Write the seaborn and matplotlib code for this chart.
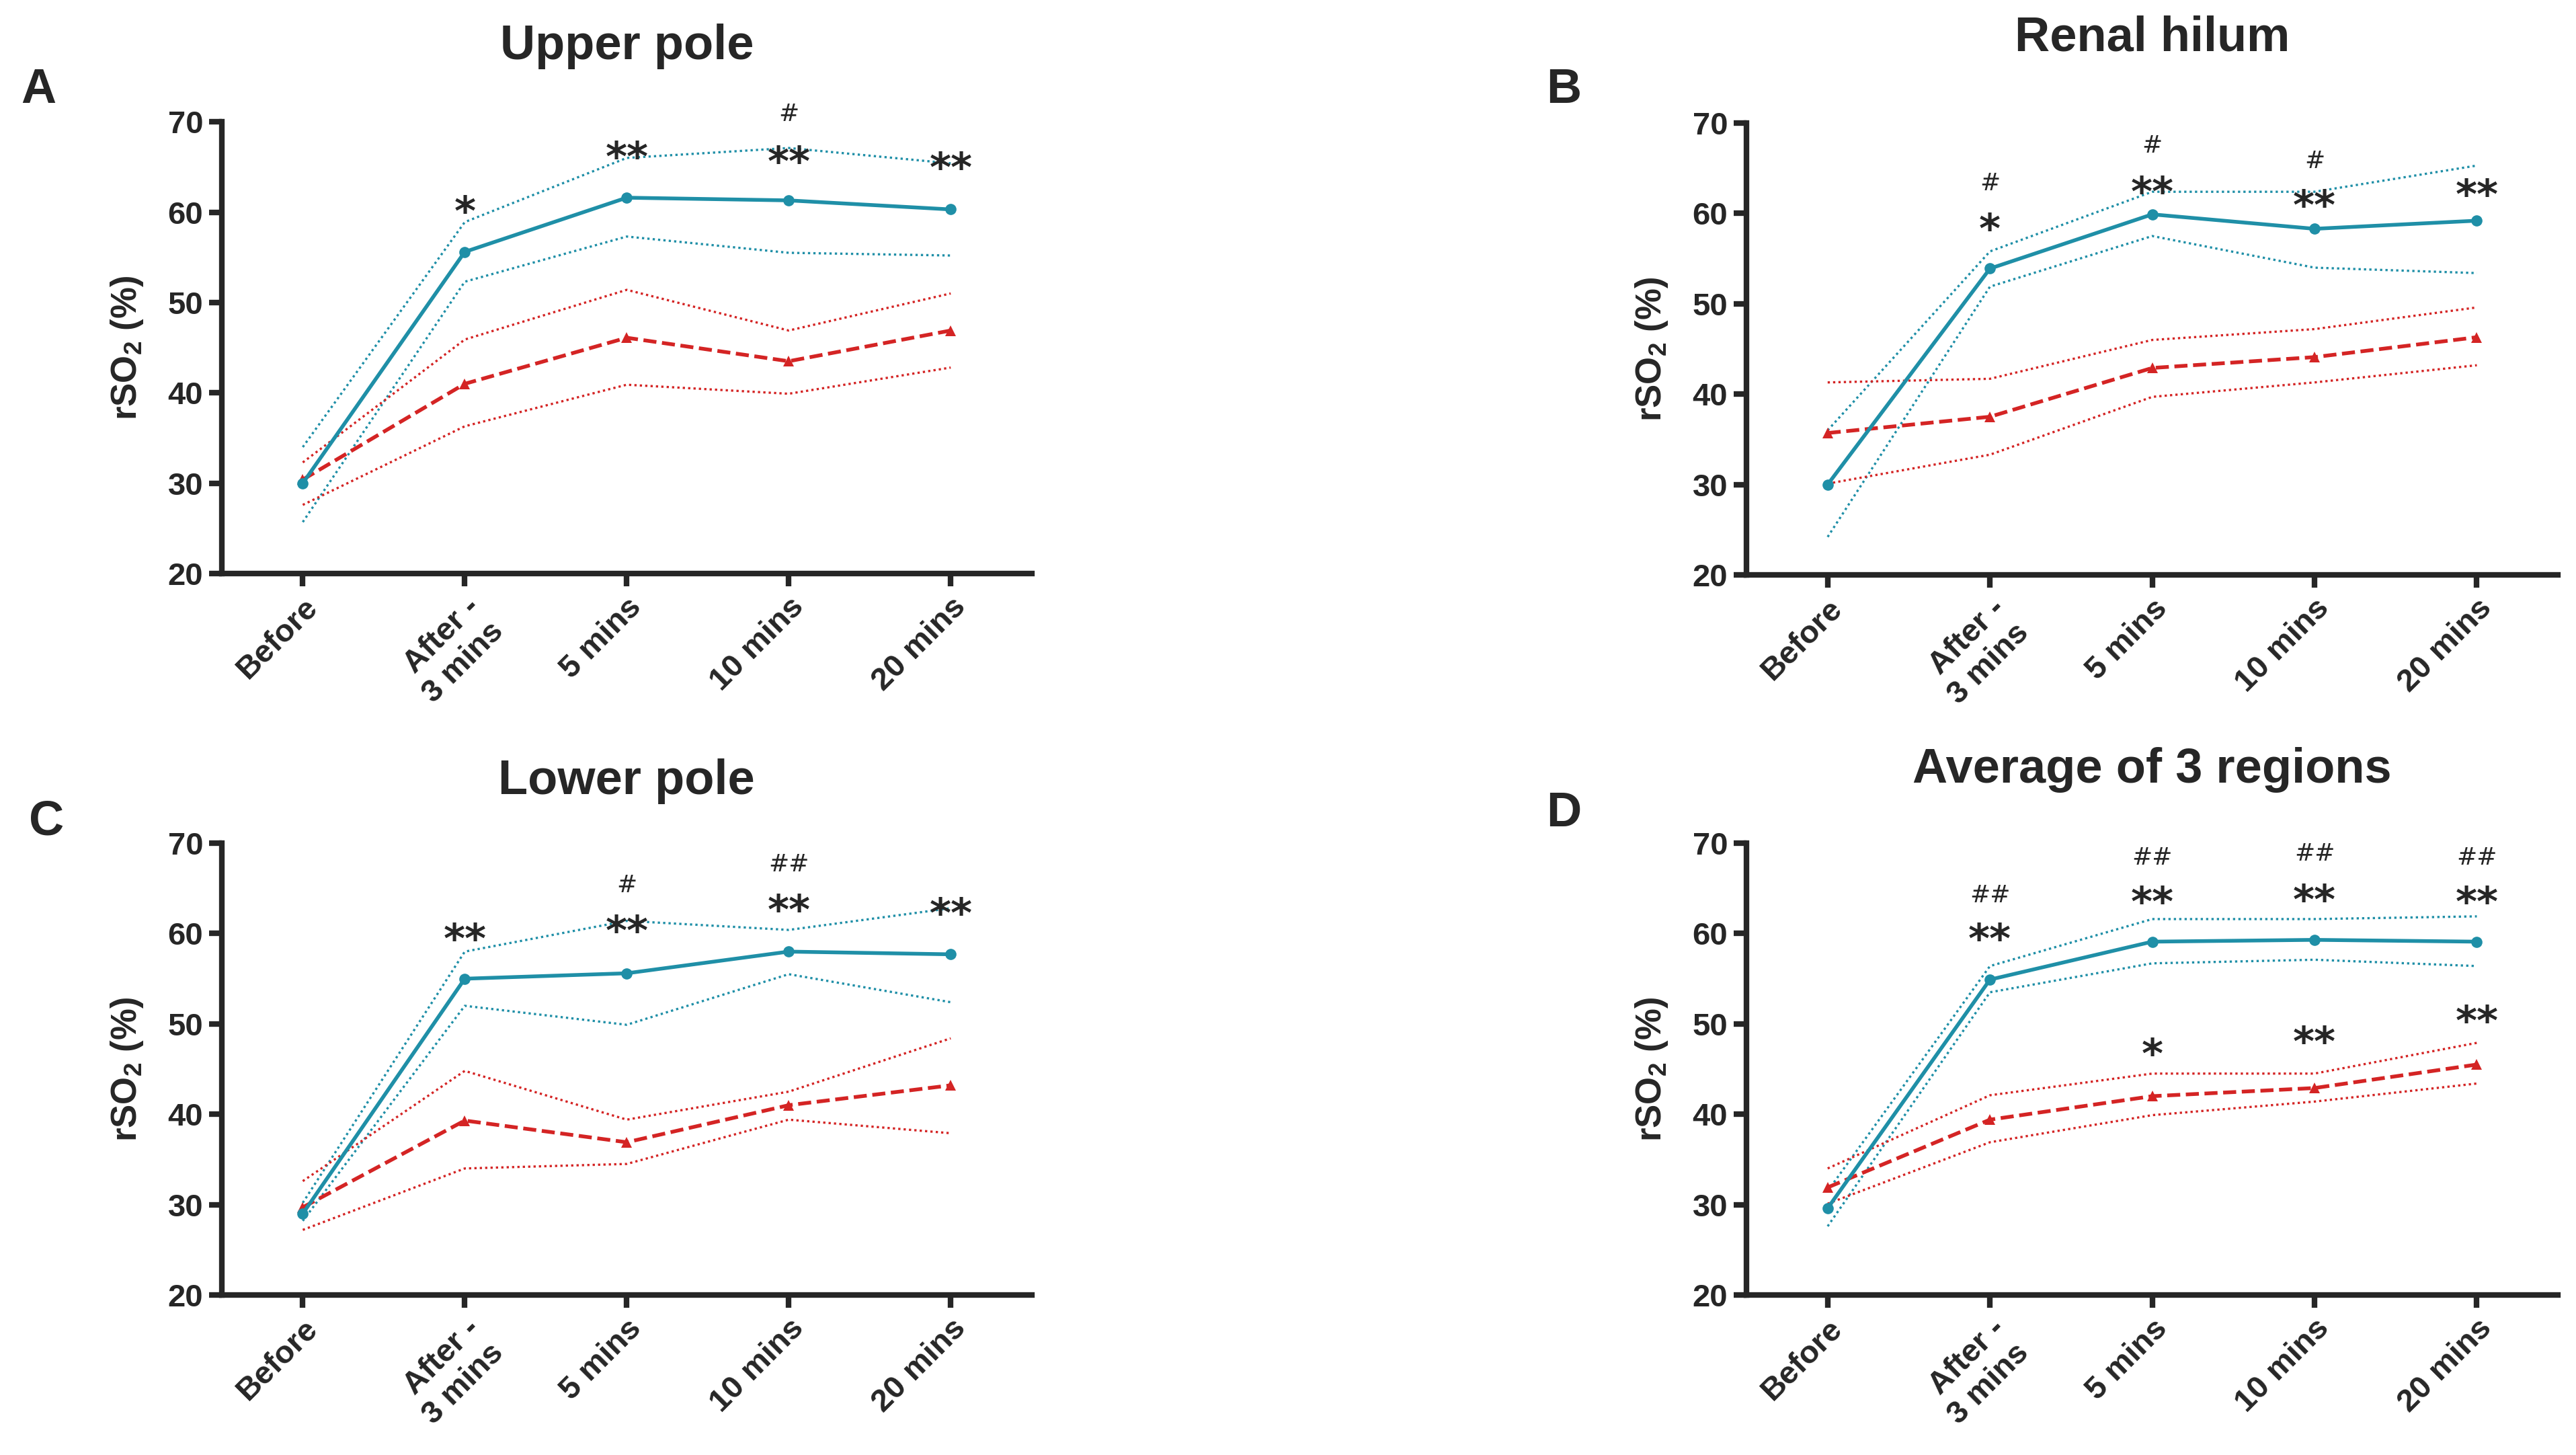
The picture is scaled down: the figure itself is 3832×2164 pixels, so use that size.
import numpy as np
import pandas as pd
import seaborn as sns
import matplotlib
matplotlib.use("Agg")
import matplotlib.pyplot as plt

sns.set_theme(style="ticks")
plt.rcParams['font.family'] = ['Liberation Sans', 'DejaVu Sans']
plt.rcParams['font.weight'] = 'bold'
plt.rcParams['mathtext.fontset'] = 'custom'
plt.rcParams['mathtext.rm'] = 'Liberation Sans'
plt.rcParams['mathtext.bf'] = 'Liberation Sans:bold'

TEAL = "#1f8fa7"
RED = "#d42424"

time_labels = ["Before", "After -\n3 mins", "5 mins", "10 mins", "20 mins"]

# A - upper pole
upper_teal = [30.0, 55.6, 61.6, 61.3, 60.3]
upper_teal_hi = [34.0, 58.9, 66.0, 67.1, 65.4]
upper_teal_lo = [25.7, 52.3, 57.3, 55.5, 55.2]
upper_red = [30.4, 41.0, 46.1, 43.5, 46.9]
upper_red_hi = [32.3, 45.9, 51.4, 46.9, 51.0]
upper_red_lo = [27.6, 36.3, 40.9, 39.9, 42.8]
upper_marks = [(1, 59.8, "*"), (2, 65.8, "**"), (3, 65.3, "**"), (3, 70.8, "#"), (4, 64.6, "**")]

# B - renal hilum
hilum_teal = [30.0, 53.9, 59.9, 58.3, 59.2]
hilum_teal_hi = [36.0, 55.8, 62.4, 62.4, 65.3]
hilum_teal_lo = [24.2, 51.9, 57.5, 54.0, 53.4]
hilum_red = [35.7, 37.5, 42.9, 44.1, 46.3]
hilum_red_hi = [41.3, 41.7, 46.0, 47.2, 49.6]
hilum_red_lo = [30.1, 33.3, 39.7, 41.3, 43.2]
hilum_marks = [(1, 58.0, "*"), (1, 63.3, "#"), (2, 62.1, "**"), (2, 67.5, "#"),
               (3, 60.6, "**"), (3, 65.8, "#"), (4, 61.8, "**")]

# C - lower pole
lower_teal = [29.0, 55.0, 55.6, 58.0, 57.7]
lower_teal_hi = [30.2, 58.0, 61.4, 60.4, 62.8]
lower_teal_lo = [28.2, 52.0, 49.9, 55.5, 52.4]
lower_red = [29.7, 39.3, 36.9, 41.0, 43.2]
lower_red_hi = [32.6, 44.8, 39.4, 42.5, 48.4]
lower_red_lo = [27.2, 34.0, 34.5, 39.4, 37.9]
lower_marks = [(1, 59.1, "**"), (2, 60.0, "**"), (2, 65.3, "#"), (3, 62.3, "**"),
               (3, 67.6, "##"), (4, 61.9, "**")]

# D - average of 3 regions
avg_teal = [29.6, 54.9, 59.1, 59.3, 59.1]
avg_teal_hi = [31.5, 56.4, 61.6, 61.6, 61.9]
avg_teal_lo = [27.6, 53.5, 56.7, 57.1, 56.4]
avg_red = [31.9, 39.4, 42.0, 42.9, 45.5]
avg_red_hi = [34.0, 42.1, 44.5, 44.5, 47.9]
avg_red_lo = [30.1, 36.9, 39.9, 41.4, 43.4]
avg_marks = [(1, 59.1, "**"), (1, 64.2, "##"), (2, 63.2, "**"), (2, 68.4, "##"),
             (3, 63.4, "**"), (3, 68.8, "##"), (4, 63.2, "**"), (4, 68.4, "##"),
             (2, 46.4, "*"), (3, 47.7, "**"), (4, 50.0, "**")]


def draw_panel(ax, teal, teal_hi, teal_lo, red, red_hi, red_lo, marks):
    x = np.arange(len(time_labels))
    dot = (0, (1, 1.4))
    for band in (teal_hi, teal_lo):
        sns.lineplot(x=x, y=band, color=TEAL, lw=1.2, linestyle=dot, ax=ax)
    for band in (red_hi, red_lo):
        sns.lineplot(x=x, y=band, color=RED, lw=1.2, linestyle=dot, ax=ax)
    sns.lineplot(x=x, y=red, color=RED, lw=2.0, linestyle=(0, (3.5, 1.5)),
                 marker="^", markersize=6, markeredgewidth=0, ax=ax)
    sns.lineplot(x=x, y=teal, color=TEAL, lw=2.0, marker="o",
                 markersize=6, markeredgewidth=0, ax=ax)

    for xi, yi, txt in marks:
        if "*" in txt:
            ax.text(xi, yi, txt, ha="center", va="center",
                    fontsize=22, fontweight="bold", family="DejaVu Sans")
        else:
            ax.text(xi, yi, txt, ha="center", va="center", fontsize=13,
                    fontweight="normal", family="DejaVu Sans")

    ax.set_xlim(-0.5, 4.5)
    ax.set_ylim(20, 70)
    ax.set_yticks([20, 30, 40, 50, 60, 70])
    ax.set_xticks(x)
    ax.set_xticklabels(time_labels, rotation=45, ha="right",
                       rotation_mode="anchor", fontsize=17, fontweight="bold")
    for lab in ax.get_yticklabels():
        lab.set_fontsize(17)
        lab.set_fontweight("bold")
    ax.set_ylabel(r"rSO$_{\mathregular{2}}$ (%)", fontsize=19,
                  fontweight="bold", labelpad=12)
    ax.set_xlabel("")
    sns.despine(ax=ax)
    for side in ("left", "bottom"):
        ax.spines[side].set_linewidth(3)
    ax.tick_params(width=3, length=7, direction="out", pad=3)
    ax.set_facecolor("white")


fig = plt.figure(figsize=(19.16, 10.82), dpi=200)
fig.patch.set_facecolor("white")

panels = [
    ([0.0861, 0.6058, 0.3144, 0.3105], "Upper pole", "A", 0.968, (0.015, 0.938),
     (upper_teal, upper_teal_hi, upper_teal_lo, upper_red, upper_red_hi, upper_red_lo, upper_marks)),
    ([0.678, 0.6049, 0.315, 0.3105], "Renal hilum", "B", 0.974, (0.607, 0.938),
     (hilum_teal, hilum_teal_hi, hilum_teal_lo, hilum_red, hilum_red_hi, hilum_red_lo, hilum_marks)),
    ([0.0861, 0.110, 0.3144, 0.3105], "Lower pole", "C", 0.463, (0.018, 0.435),
     (lower_teal, lower_teal_hi, lower_teal_lo, lower_red, lower_red_hi, lower_red_lo, lower_marks)),
    ([0.678, 0.110, 0.315, 0.3105], "Average of 3 regions", "D", 0.471, (0.607, 0.441),
     (avg_teal, avg_teal_hi, avg_teal_lo, avg_red, avg_red_hi, avg_red_lo, avg_marks)),
]

for rect, title, letter, ty, lpos, series in panels:
    ax = fig.add_axes(rect)
    draw_panel(ax, *series)
    fig.text(rect[0] + rect[2] / 2, ty, title, ha="center", va="center",
             fontsize=26, fontweight="bold")
    fig.text(lpos[0], lpos[1], letter, ha="center", va="center",
             fontsize=26, fontweight="bold")

fig.savefig("out.png", dpi=200, facecolor="white")
